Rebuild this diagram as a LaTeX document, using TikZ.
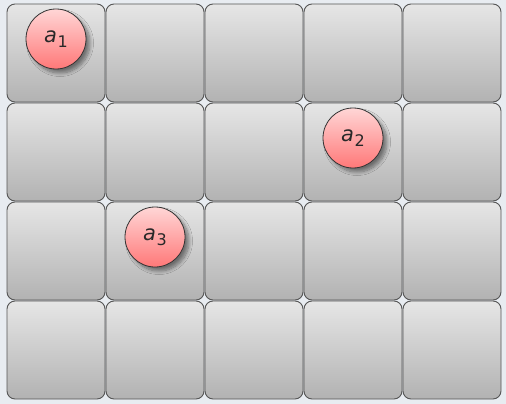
\documentclass[tikz,border=0pt]{standalone}
\usepackage{fontspec}
\newfontfamily\labfont{DejaVu Sans}
\usetikzlibrary{shadows.blur}
\definecolor{bgc}{RGB}{232,236,241}
\definecolor{celltop}{RGB}{230,230,230}
\definecolor{cellbot}{RGB}{178,178,178}
\definecolor{cellline}{RGB}{85,85,85}
\definecolor{agtop}{RGB}{255,214,214}
\definecolor{agbot}{RGB}{255,120,120}
\definecolor{txt}{RGB}{40,40,40}
\tikzset{
  cellbox/.style={draw=cellline, line width=0.9pt, rounded corners=8pt,
    top color=celltop, bottom color=cellbot, minimum width=98pt, minimum height=98pt,
    inner sep=0pt},
  agent/.style={circle, draw=black!80, line width=0.8pt, top color=agtop, bottom color=agbot,
    minimum size=60pt, inner sep=0pt, text=txt, font=\labfont\fontsize{21}{21}\selectfont,
    blur shadow={shadow xshift=4pt, shadow yshift=-4pt, shadow blur steps=8, shadow blur radius=3.5pt, shadow opacity=45}}
}
\newcommand{\albl}[1]{\textit{a}\kern0.5pt\raisebox{-0.22em}{\fontsize{16}{16}\selectfont #1}}
\begin{document}
\begin{tikzpicture}[x=1pt,y=-1pt]
\fill[bgc] (0,0) rectangle (506,404);
\useasboundingbox (0,0) rectangle (506,404);
\foreach \c in {0,...,4}{
  \foreach \r in {0,...,3}{
    \node[cellbox] (cell-\c-\r) at ({56+99*\c},{53+99*\r}) {};
  }
}
\node[agent] (a1) at ([yshift=14pt]cell-0-0.center) {\albl{1}};
\node[agent] (a2) at ([yshift=14pt]cell-3-1.center) {\albl{2}};
\node[agent] (a3) at ([yshift=14pt]cell-1-2.center) {\albl{3}};
\end{tikzpicture}
\end{document}
